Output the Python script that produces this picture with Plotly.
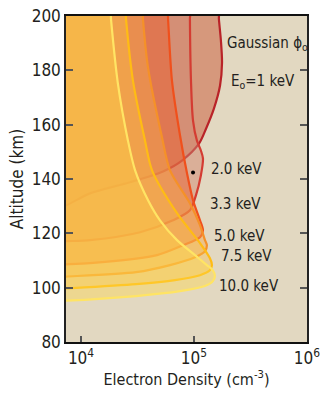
import plotly.graph_objects as go

# Electron density profiles (cm^-3) vs altitude (km) for a Gaussian
# precipitating flux at several characteristic energies.
NE_1KEV = [6.0e3, 7.4e3, 1.2e4, 2.71e4, 5.31e4, 7.83e4, 1.11e5, 1.28e5, 1.50e5,
           1.70e5, 1.77e5, 1.73e5, 1.66e5, 1.63e5]
ALT_1KEV = [129.2, 130.3, 134.7, 138.8, 142.8, 146.8, 153.1, 158.6, 165.9,
            174.4, 182.8, 190.9, 199.0, 204.0]

NE_2KEV = [6.0e3, 7.4e3, 1.2e4, 3.33e4, 6.51e4, 9.2e4, 1.04e5, 1.15e5, 1.20e5,
           1.15e5, 1.06e5, 9.8e4, 9.4e4, 9.2e4, 9.2e4]
ALT_2KEV = [116.9, 117.1, 117.5, 120.4, 124.8, 128.5, 134.0, 141.3, 147.6,
            150.5, 154.2, 161.5, 176.2, 199.0, 204.0]

NE_3KEV = [6.0e3, 7.4e3, 1.2e4, 4.70e4, 7.99e4, 1.13e5, 1.20e5, 1.13e5, 9.8e4,
           8.67e4, 7.52e4, 6.38e4, 5.89e4, 5.77e4]
ALT_3KEV = [108.5, 108.6, 109.0, 112.0, 115.6, 118.6, 121.1, 124.8, 132.2,
            142.1, 156.0, 176.2, 199.0, 204.0]

NE_5KEV = [6.0e3, 7.4e3, 3.07e4, 6.13e4, 1.02e5, 1.25e5, 1.30e5, 1.25e5, 1.13e5,
           9.2e4, 6.13e4, 5.21e4, 3.92e4, 3.53e4, 3.47e4]
ALT_5KEV = [103.9, 104.1, 105.7, 108.3, 111.2, 113.4, 115.6, 117.5, 123.0,
            131.1, 143.2, 155.3, 181.0, 199.0, 204.0]

NE_7KEV = [6.0e3, 7.4e3, 3.07e4, 6.79e4, 1.13e5, 1.38e5, 1.44e5, 1.38e5, 1.13e5,
           7.07e4, 4.25e4, 3.68e4, 2.88e4, 2.5e4, 2.45e4]
ALT_7KEV = [99.5, 99.7, 101.3, 102.8, 104.6, 106.4, 108.3, 110.9, 116.4,
            127.4, 143.2, 154.2, 176.2, 199.0, 204.0]

NE_10KEV = [6.0e3, 7.4e3, 3.07e4, 7.52e4, 1.25e5, 1.47e5, 1.53e5, 1.47e5, 1.30e5,
            1.02e5, 7.07e4, 5.0e4, 3.92e4, 3.01e4, 2.6e4, 2.12e4, 1.84e4, 1.8e4]
ALT_10KEV = [95.1, 95.2, 96.9, 98.7, 100.6, 102.4, 104.2, 106.4, 108.3,
             112.0, 117.5, 124.8, 132.2, 143.2, 154.2, 175.1, 199.0, 204.0]

ENERGY_LABELS = ["2.0 keV", "3.3 keV", "5.0 keV", "7.5 keV", "10.0 keV"]

# marked point on the 2 keV curve
DOT_NE = [9.8e4]
DOT_ALT = [142.4]

profiles = [
    (NE_1KEV, ALT_1KEV, "rgba(202,88,55,0.5)", "rgb(185,35,40)"),
    (NE_2KEV, ALT_2KEV, "rgba(210,134,112,0.5)", "rgb(212,60,50)"),
    (NE_3KEV, ALT_3KEV, "rgba(234,95,46,0.5)", "rgb(240,80,28)"),
    (NE_5KEV, ALT_5KEV, "rgba(247,170,75,0.45)", "rgb(245,145,40)"),
    (NE_7KEV, ALT_7KEV, "rgba(250,190,70,0.4)", "rgb(255,188,20)"),
    (NE_10KEV, ALT_10KEV, "rgba(255,214,70,0.4)", "rgb(255,228,100)"),
]

FONT = "Liberation Sans Narrow, DejaVu Sans Condensed, Roboto Condensed, Liberation Sans, Arial, sans-serif"
TXT = "#231f20"

fig = go.Figure()
for ne, alt, fillc, linec in profiles:
    # close each region back along the left (low-density) side
    xs = list(ne) + [1e3, 1e3]
    ys = list(alt) + [alt[-1], alt[0]]
    fig.add_trace(go.Scatter(
        x=xs, y=ys, mode="lines", fill="toself", fillcolor=fillc,
        line=dict(color=linec, width=2.2, shape="spline", smoothing=0.8),
        hoverinfo="skip", showlegend=False,
    ))

fig.add_trace(go.Scatter(
    x=DOT_NE, y=DOT_ALT, mode="markers",
    marker=dict(color="black", size=4), showlegend=False, hoverinfo="skip",
))

label_pos = [(0.592, 0.531), (0.59, 0.423), (0.606, 0.325), (0.634, 0.265), (0.627, 0.171)]
annotations = [
    dict(text="Gaussian ϕ<sub>o</sub>", x=0.66, y=0.917),
    dict(text="E<sub>o</sub>=1 keV", x=0.675, y=0.80),
]
for lab, (ax, ay) in zip(ENERGY_LABELS, label_pos):
    annotations.append(dict(text=lab, x=ax, y=ay))
for a in annotations:
    a.update(xref="paper", yref="paper", xanchor="left", yanchor="middle",
             showarrow=False, font=dict(family=FONT, size=15, color=TXT))

fig.update_layout(
    width=324, height=399, autosize=False,
    margin=dict(l=66, r=17, t=16, b=57, autoexpand=False),
    paper_bgcolor="white", plot_bgcolor="#e2d8c1",
    annotations=annotations,
    xaxis=dict(
        type="log", range=[3.867, 6.0], automargin=False,
        tickvals=[1e4, 1e5, 1e6],
        ticktext=["10<sup>4</sup>", "10<sup>5</sup>", "10<sup>6</sup>"],
        ticks="inside", ticklen=6, tickcolor="#555", tickwidth=1.5,
        showline=True, linecolor="#111", linewidth=2, mirror=True,
        showgrid=False, zeroline=False,
        tickfont=dict(family=FONT, size=17, color=TXT),
        title=dict(text="Electron Density (cm<sup>-3</sup>)", standoff=6,
                   font=dict(family=FONT, size=16, color=TXT)),
    ),
    yaxis=dict(
        range=[80, 200], tickvals=[80, 100, 120, 140, 160, 180, 200],
        automargin=False,
        ticks="inside", ticklen=7, tickcolor="#555", tickwidth=1.5,
        showline=True, linecolor="#222", linewidth=1.5, mirror="ticks",
        showgrid=False, zeroline=False,
        tickfont=dict(family=FONT, size=17, color=TXT),
        title=dict(text="Altitude (km)", standoff=4,
                   font=dict(family=FONT, size=17, color=TXT)),
    ),
)

fig.write_html("out.html", config={"responsive": False})
